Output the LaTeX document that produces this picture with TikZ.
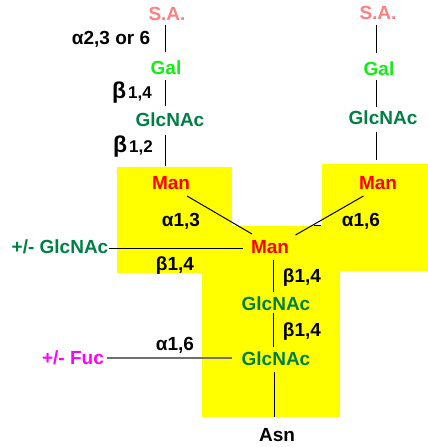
\documentclass[tikz,border=0pt]{standalone}
\usepackage{fontspec}
\setmainfont{Liberation Sans}
\definecolor{sacol}{HTML}{FF8080}
\definecolor{galcol}{HTML}{11EE11}
\definecolor{glccol}{HTML}{007F45}
\definecolor{mancol}{HTML}{FF0000}
\definecolor{fuccol}{HTML}{FF00FF}
\definecolor{boxcol}{HTML}{FFFF00}
\definecolor{fucline}{HTML}{707070}
\tikzset{
  sugar/.style={inner sep=0pt, font=\fontsize{19}{19}\selectfont\bfseries},
  sa/.style={sugar, text=sacol},
  gal/.style={sugar, text=galcol},
  glc/.style={sugar, text=glccol},
  man/.style={sugar, text=mancol},
  fuc/.style={sugar, text=fuccol},
  link/.style={inner sep=0pt, font=\fontsize{19}{19}\selectfont\bfseries, text=black},
  bond/.style={draw=black, line width=1pt},
}
\newcommand{\bigbeta}[1]{{\fontsize{23}{23}\selectfont β}\kern2pt{\fontsize{17}{17}\selectfont #1}}
\begin{document}
\begin{tikzpicture}[x=1pt,y=-1pt]
\useasboundingbox (0,0) rectangle (428,447);
% yellow core boxes
\fill[boxcol] (117,167) rectangle (232,273);
\fill[boxcol] (322,164) rectangle (428,271);
\fill[boxcol] (202,226) rectangle (340,417);

% left antenna
\node[sa]  (saL)  at (167,13.5) {S.A.};
\node[gal] (galL) at (166,68) {Gal};
\node[glc] (glcL) at (170,120) {GlcNAc};
\node[link] (l1) at (111,39) {α2,3 or 6};
\node[link] (l2) at (132,93) {\bigbeta{1,4}};
\node[link] (l3) at (133,147) {\bigbeta{1,2}};

% right antenna
\node[sa]  (saR)  at (378,13) {S.A.};
\node[gal] (galR) at (379,69) {Gal};
\node[glc] (glcR) at (383,118) {GlcNAc};

% core
\node[man] (manL) at (171,183.5) {Man};
\node[man] (manR) at (378,183) {Man};
\node[man] (manC) at (270,247) {Man};
\node[glc] (glc1) at (276,304) {GlcNAc};
\node[glc] (glc2) at (276,359) {GlcNAc};
\node[sugar] (asn) at (277,435) {Asn};
\node[glc] (bis) at (60,247) {+/- GlcNAc};
\node[fuc] (fuc) at (73,358) {+/- Fuc};

\node[link] (a13) at (181,221) {α1,3};
\node[link] (a16) at (361,221) {α1,6};
\node[link] (b14L) at (175,266) {β1,4};
\node[link] (b14a) at (302,278) {β1,4};
\node[link] (b14b) at (302,332) {β1,4};
\node[link] (a16f) at (175,345) {α1,6};

% connector end points
\coordinate (pL1) at (165,25);  \coordinate (pL2) at (165,52);
\coordinate (pL3) at (165,80);  \coordinate (pL4) at (165,106);
\coordinate (pL5) at (165,135); \coordinate (pL6) at (165,166);
\coordinate (pR1) at (376,25);  \coordinate (pR2) at (376,53);
\coordinate (pR3) at (376,80);  \coordinate (pR4) at (376,107);
\coordinate (pR5) at (376,132); \coordinate (pR6) at (376,160);
\coordinate (dL1) at (187,196); \coordinate (dL2) at (252,234);
\coordinate (dR1) at (363.5,196); \coordinate (dR2) at (295.5,235);
\coordinate (t1) at (314,225); \coordinate (t2) at (321,225);
\coordinate (hB1) at (109,248); \coordinate (hB2) at (243,248);
\coordinate (v1) at (273,260); \coordinate (v2) at (273,292);
\coordinate (v3) at (273,313); \coordinate (v4) at (273,347);
\coordinate (v5) at (274,372); \coordinate (v6) at (274,417);
\coordinate (hF1) at (107,358); \coordinate (hF2) at (232,358);

\draw[bond] (pL1) -- (pL2);
\draw[bond] (pL3) -- (pL4);
\draw[bond] (pL5) -- (pL6);
\draw[bond] (pR1) -- (pR2);
\draw[bond] (pR3) -- (pR4);
\draw[bond] (pR5) -- (pR6);
\draw[bond] (dL1) -- (dL2);
\draw[bond] (dR1) -- (dR2);
\draw[bond] (t1) -- (t2);
\draw[bond] (hB1) -- (hB2);
\draw[bond] (v1) -- (v2);
\draw[bond] (v3) -- (v4);
\draw[bond] (v5) -- (v6);
\draw[draw=fucline, line width=1.3pt] (hF1) -- (hF2);
\end{tikzpicture}
\end{document}
